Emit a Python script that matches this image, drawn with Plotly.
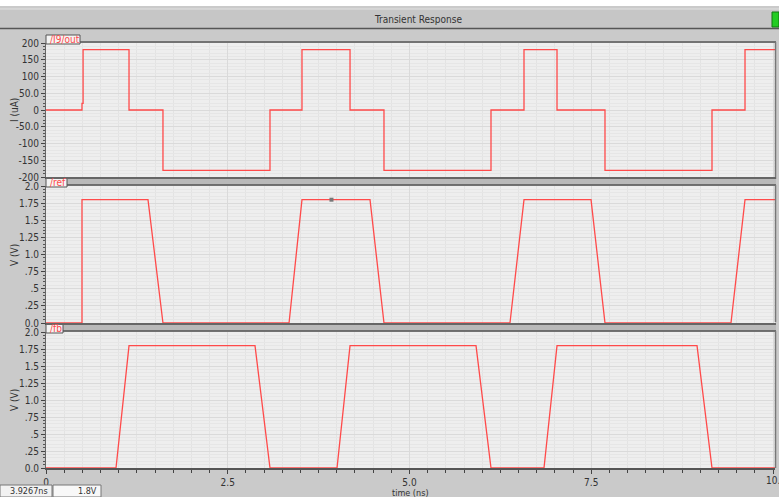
import plotly.graph_objects as go

# ---------------- data ----------------
out_t = [0, 0.495, 0.495, 0.51, 0.51, 1.142, 1.142, 1.609, 1.609, 3.081, 3.081, 3.521, 3.521,
         4.182, 4.182, 4.649, 4.649, 6.121, 6.121, 6.575, 6.575, 7.029, 7.029, 7.689, 7.689,
         9.161, 9.161, 9.615, 9.615, 10.03]
out_v = [0, 0, 20, 20, 180, 180, 0, 0, -180, -180, 0, 0, 180,
         180, 0, 0, -180, -180, 0, 0, 180, 180, 0, 0, -180,
         -180, 0, 0, 180, 180]

ref_t = [0, 0.495, 0.495, 1.403, 1.609, 3.343, 3.521, 4.457, 4.649, 6.382, 6.575, 7.497, 7.689,
         9.422, 9.615, 10.03]
ref_v = [0, 0, 1.8, 1.8, 0, 0, 1.8, 1.8, 0, 0, 1.8, 1.8, 0, 0, 1.8, 1.8]

fb_t = [0, 0.963, 1.142, 2.875, 3.081, 4.003, 4.182, 5.915, 6.121, 6.85, 7.029, 8.955, 9.161, 10.03]
fb_v = [0, 0, 1.8, 1.8, 0, 0, 1.8, 1.8, 0, 0, 1.8, 1.8, 0, 0]

cursor_t = [3.9267]
cursor_v = [1.8]

x_tickvals = [0, 2.5, 5.0, 7.5, 10.0]
x_ticktext = ["0", "2.5", "5.0", "7.5", "10."]
i_tickvals = [200, 150, 100, 50, 0, -50, -100, -150, -200]
i_ticktext = ["200", "150", "100", "50.0", "0", "-50.0", "-100", "-150", "-200"]
v_tickvals = [2.0, 1.75, 1.5, 1.25, 1.0, 0.75, 0.5, 0.25, 0.0]
v_ticktext = ["2.0", "1.75", "1.5", "1.25", "1.0", ".75", ".5", ".25", "0.0"]

# ---------------- layout helpers ----------------
W, H = 779, 497
def px(x):
    return x / W
def py(y):
    return 1 - y / H

FONT = "Liberation Sans Narrow, DejaVu Sans Condensed, Arial, sans-serif"
RED = "#ff4a4a"
BG = "#cacaca"
PLOT_BG = "#eeeeee"

fig = go.Figure()

xdom = [px(46), px(775)]
xrange_ = [0, 10 * 729 / 727]

panels = [
    ("y", 43, 177, [-200, 200], i_tickvals, i_ticktext, 10, "I (uA)"),
    ("y2", 186, 323, [0, 2.0], v_tickvals, v_ticktext, 0.05, "V (V)"),
    ("y3", 332, 468, [0, 2.0], v_tickvals, v_ticktext, 0.05, "V (V)"),
]

fig.add_trace(go.Scatter(x=out_t, y=out_v, mode="lines", line=dict(color=RED, width=1.3),
                         xaxis="x", yaxis="y", showlegend=False))
fig.add_trace(go.Scatter(x=ref_t, y=ref_v, mode="lines", line=dict(color=RED, width=1.3),
                         xaxis="x2", yaxis="y2", showlegend=False))
fig.add_trace(go.Scatter(x=cursor_t, y=cursor_v, mode="markers",
                         marker=dict(color="#777777", size=4, symbol="square"),
                         xaxis="x2", yaxis="y2", showlegend=False))
fig.add_trace(go.Scatter(x=fb_t, y=fb_v, mode="lines", line=dict(color=RED, width=1.3),
                         xaxis="x3", yaxis="y3", showlegend=False))

layout = dict(
    width=W, height=H,
    margin=dict(l=0, r=0, t=0, b=0, autoexpand=False),
    paper_bgcolor=BG, plot_bgcolor=PLOT_BG,
    font=dict(family=FONT, size=10, color="#333333"),
    showlegend=False,
)

for i, (yname, top, bot, rng, tv, tt, mdt, title) in enumerate(panels):
    xname = "xaxis" if i == 0 else f"xaxis{i+1}"
    yax = "yaxis" if i == 0 else f"yaxis{i+1}"
    is_last = (i == 2)
    layout[xname] = dict(
        domain=xdom, range=xrange_, anchor=yname, automargin=False,
        tickvals=x_tickvals, ticktext=x_ticktext,
        showticklabels=is_last,
        ticks="outside" if is_last else "", ticklen=4, tickcolor="#444",
        showgrid=True, gridcolor="#dadada", gridwidth=1,
        minor=dict(dtick=0.25, tick0=0, showgrid=True, gridcolor="#e3e3e3",
                   ticks="outside" if is_last else "", ticklen=3, tickcolor="#444"),
        showline=True, linecolor="#555555", linewidth=1.5, mirror=False,
        zeroline=False, tickfont=dict(size=10, color="#333"),
        fixedrange=True,
    )
    if i > 0:
        layout[xname]["matches"] = "x"
    layout[yax] = dict(
        domain=[py(bot), py(top)], range=rng, anchor="x" if i == 0 else f"x{i+1}",
        automargin=False,
        tickvals=tv, ticktext=tt, ticks="outside", ticklen=4, tickcolor="#444",
        showgrid=True, gridcolor="#dadada", gridwidth=1,
        minor=dict(dtick=mdt, showgrid=True, gridcolor="#e6e6e6",
                   ticks="outside", ticklen=2, tickcolor="#555"),
        showline=True, linecolor="#666666", linewidth=1,
        zeroline=False, tickfont=dict(size=10, color="#333"),
        fixedrange=True,
    )

fig.update_layout(**layout)

shapes = []
annotations = []

# top white strip and title bar
shapes.append(dict(type="rect", xref="paper", yref="paper", x0=0, x1=1, y0=py(6), y1=1,
                   fillcolor="#ffffff", line=dict(width=0), layer="below"))
shapes.append(dict(type="rect", xref="paper", yref="paper", x0=px(0), x1=1, y0=py(28), y1=py(9),
                   fillcolor="#c6c6c6", line=dict(width=0), layer="below"))
shapes.append(dict(type="line", xref="paper", yref="paper", x0=px(0), x1=1, y0=py(9), y1=py(9),
                   line=dict(color="#e2e2e2", width=1)))
shapes.append(dict(type="line", xref="paper", yref="paper", x0=px(0), x1=1, y0=py(28.5), y1=py(28.5),
                   line=dict(color="#555555", width=1.5)))
shapes.append(dict(type="rect", xref="paper", yref="paper", x0=px(772), x1=px(779), y0=py(27), y1=py(12),
                   fillcolor="#22cc22", line=dict(color="#117711", width=1)))
annotations.append(dict(text="Transient Response", xref="paper", yref="paper", x=px(418), y=py(19),
                        showarrow=False, font=dict(size=10, color="#333", family=FONT),
                        xanchor="center", yanchor="middle"))

# panel frames, bands and tabs
tabs = [("/I9/out", 43, 80), ("/ref", 186, 67), ("/fb", 332, 63)]
for (label, top, tab_r) in tabs:
    shapes.append(dict(type="line", xref="paper", yref="paper", x0=px(46), x1=px(776),
                       y0=py(top - 1), y1=py(top - 1), line=dict(color="#555555", width=1.5)))
    shapes.append(dict(type="line", xref="paper", yref="paper", x0=px(775.5), x1=px(775.5),
                       y0=py(top - 1), y1=py(top + 136), line=dict(color="#777777", width=1.5)))
    shapes.append(dict(type="rect", xref="paper", yref="paper", x0=px(46), x1=px(tab_r),
                       y0=py(top + 1), y1=py(top - 8), fillcolor="#f4f4f4",
                       line=dict(color="#555555", width=1)))
    annotations.append(dict(text=label, xref="paper", yref="paper", x=px(48), y=py(top - 3.5),
                            showarrow=False, font=dict(size=10, color="#ff4a4a", family=FONT),
                            xanchor="left", yanchor="middle"))

# bands between panels
for (b0, b1) in [(177.5, 185), (323.5, 331)]:
    shapes.append(dict(type="rect", xref="paper", yref="paper", x0=px(46), x1=px(776),
                       y0=py(b1), y1=py(b0), fillcolor="#b9b9b9",
                       line=dict(width=0), layer="below"))
    shapes.append(dict(type="line", xref="paper", yref="paper", x0=px(46), x1=px(776),
                       y0=py(b0 + 0.5), y1=py(b0 + 0.5), line=dict(color="#666666", width=2)))

# y axis titles
for (title, ymid) in [("I (uA)", 110), ("V (V)", 255), ("V (V)", 400)]:
    annotations.append(dict(text=title, xref="paper", yref="paper", x=px(14), y=py(ymid),
                            showarrow=False, textangle=-90,
                            font=dict(size=10, color="#333", family=FONT),
                            xanchor="center", yanchor="middle"))

# last x tick label (partly past the right edge, as in the reference)
annotations.append(dict(text=x_ticktext[-1], xref="x3", yref="paper", x=x_tickvals[-1], y=py(480),
                        showarrow=False, font=dict(size=10, color="#333", family=FONT),
                        xanchor="center", yanchor="middle"))

# x axis title
annotations.append(dict(text="time (ns)", xref="paper", yref="paper", x=px(410), y=py(492.5),
                        showarrow=False, font=dict(size=9, color="#333", family=FONT),
                        xanchor="center", yanchor="middle"))

# bottom-left readout boxes
shapes.append(dict(type="rect", xref="paper", yref="paper", x0=px(0), x1=px(52),
                   y0=0, y1=py(485), fillcolor="#f2f2f2", line=dict(color="#777777", width=1)))
shapes.append(dict(type="rect", xref="paper", yref="paper", x0=px(53), x1=px(101),
                   y0=0, y1=py(485), fillcolor="#f8f8f8", line=dict(color="#777777", width=1)))
annotations.append(dict(text="3.9267ns", xref="paper", yref="paper", x=px(50), y=py(491),
                        showarrow=False, font=dict(size=9, color="#333", family=FONT),
                        xanchor="right", yanchor="middle"))
annotations.append(dict(text="1.8V", xref="paper", yref="paper", x=px(99), y=py(491),
                        showarrow=False, font=dict(size=9, color="#333", family=FONT),
                        xanchor="right", yanchor="middle"))

fig.update_layout(shapes=shapes, annotations=annotations)

fig.write_html("out.html",
               config={"displayModeBar": False},
               post_script="document.body.style.margin='0';document.body.style.overflow='hidden';")
